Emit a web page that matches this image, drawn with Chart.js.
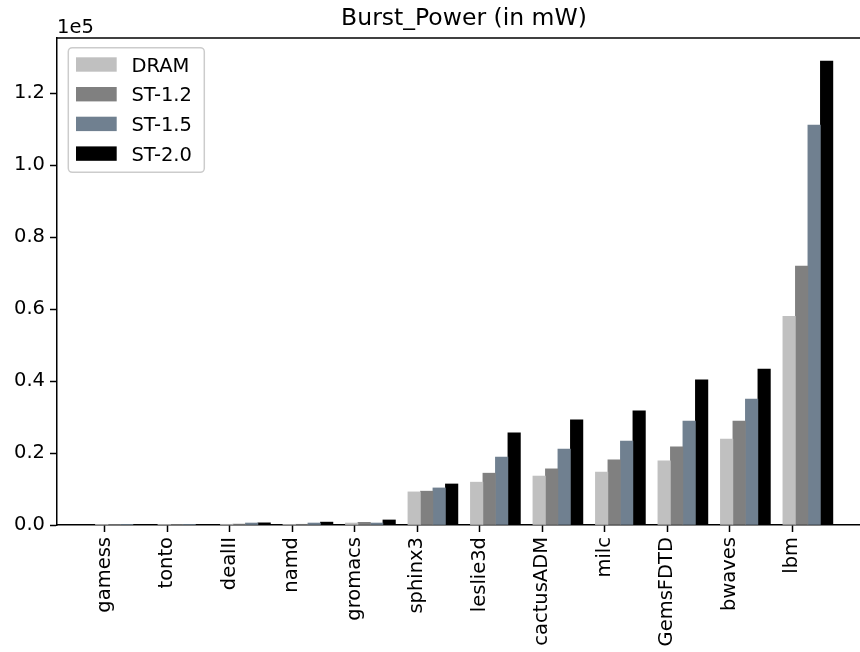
<!DOCTYPE html>
<html>
<head>
<meta charset="utf-8">
<title>Burst_Power (in mW)</title>
<script src="https://cdn.jsdelivr.net/npm/chart.js@4.4.1/dist/chart.umd.min.js"></script>
<style>
  html, body { margin: 0; padding: 0; background: #fff; overflow: hidden; }
  canvas { display: block; }
</style>
</head>
<body>
<!-- the original figure is cut off at the right edge, so the canvas is a bit wider than the window -->
<canvas id="chart-burst" width="871" height="652"></canvas>
<script>
'use strict';

const benchmarks = ['gamess', 'tonto', 'dealII', 'namd', 'gromacs', 'sphinx3', 'leslie3d', 'cactusADM', 'milc', 'GemsFDTD', 'bwaves', 'lbm'];

// burst power per benchmark, in mW (axis shown in units of 1e5)
const dramPower = [30, 30, 200, 50, 550, 9200, 11900, 13600, 14700, 17800, 23900, 58000];
const st12Power = [40, 40, 250, 200, 750, 9400, 14400, 15600, 18100, 21700, 28900, 71900];
const st15Power = [50, 50, 550, 550, 550, 10300, 18900, 21100, 23300, 28900, 35000, 111100];
const st20Power = [60, 60, 600, 800, 1400, 11400, 25600, 29200, 31700, 40300, 43300, 128900];

const seriesNames = ['DRAM', 'ST-1.2', 'ST-1.5', 'ST-2.0'];
const seriesColors = ['#c0c0c0', '#808080', '#708090', '#000000'];

const yTicks = [0, 20000, 40000, 60000, 80000, 100000, 120000];
const yMax = 135300;
const yMultiplier = 1e5;
const yMultiplierLabel = '1e5';

// x ticks sit a quarter slot left of the bar group centre, like the original
const TICK_SHIFT = -0.25;
const X_MIN = -1.015;
const X_MAX = 12.01;

const FONT = '"DejaVu Sans", sans-serif';
const TICK_SIZE = 19.5;

Chart.defaults.font.family = FONT;
Chart.defaults.color = '#000';

// top spine, the "1e5" offset text and the boxed legend in the upper left
const axesExtras = {
  id: 'axesExtras',
  afterDraw(chart) {
    const { ctx, chartArea } = chart;
    ctx.save();
    ctx.strokeStyle = '#000';
    ctx.lineWidth = 1.5;
    ctx.beginPath();
    ctx.moveTo(chartArea.left, chartArea.top);
    ctx.lineTo(chartArea.right, chartArea.top);
    ctx.stroke();

    ctx.font = `${TICK_SIZE}px ${FONT}`;
    ctx.fillStyle = '#000';
    ctx.textAlign = 'left';
    ctx.textBaseline = 'alphabetic';
    ctx.fillText(yMultiplierLabel, chartArea.left, chartArea.top - 5.3);

    const lx = chartArea.left + 11.3, ly = chartArea.top + 9.7;
    ctx.beginPath();
    ctx.roundRect(lx, ly, 136, 124.6, 4);
    ctx.fillStyle = 'rgba(255,255,255,0.8)';
    ctx.fill();
    ctx.strokeStyle = '#cccccc';
    ctx.lineWidth = 1.5;
    ctx.stroke();

    chart.data.datasets.forEach((ds, i) => {
      const base = ly + 24 + i * 29.7;
      ctx.fillStyle = ds.backgroundColor;
      ctx.fillRect(lx + 7.7, base - 14.4, 40.7, 14.4);
      ctx.fillStyle = '#000';
      ctx.fillText(ds.label, lx + 63.1, base);
    });
    ctx.restore();
  }
};

const seriesValues = [dramPower, st12Power, st15Power, st20Power];

const datasets = seriesNames.map((name, k) => ({
  label: name,
  data: seriesValues[k].map((v, i) => ({ x: i, y: v })),
  backgroundColor: seriesColors[k],
  borderWidth: 0,
  barThickness: 12.5
}));

const chartBurst = new Chart(document.getElementById('chart-burst').getContext('2d'), {
  type: 'bar',
  data: { datasets },
  plugins: [axesExtras],
  options: {
    responsive: false,
    animation: false,
    devicePixelRatio: 1,
    layout: { padding: 0 },
    plugins: {
      legend: { display: false },
      tooltip: { enabled: false },
      title: {
        display: true,
        text: 'Burst_Power (in mW)',
        fullSize: false,
        color: '#000',
        font: { family: FONT, size: 23.5, weight: 'normal', lineHeight: 1.2 },
        padding: { top: 4.4, bottom: 5.4 }
      }
    },
    scales: {
      x: {
        type: 'linear',
        min: X_MIN,
        max: X_MAX,
        offset: false,
        grid: { display: true, offset: false, drawOnChartArea: false, drawTicks: true, tickLength: 7, tickWidth: 1.5, tickColor: '#000' },
        border: { display: true, color: '#000', width: 1.5 },
        afterBuildTicks: (scale) => {
          scale.ticks = benchmarks.map((_, i) => ({ value: i + TICK_SHIFT }));
        },
        afterFit: (scale) => { scale.height = 127; },
        ticks: {
          autoSkip: false,
          minRotation: 90,
          maxRotation: 90,
          padding: 5,
          font: { size: TICK_SIZE },
          callback: (value, index) => benchmarks[index]
        }
      },
      y: {
        type: 'linear',
        min: 0,
        max: yMax,
        grid: { display: true, drawOnChartArea: false, drawTicks: true, tickLength: 7, tickWidth: 1.5, tickColor: '#000' },
        border: { display: true, color: '#000', width: 1.5 },
        afterBuildTicks: (scale) => {
          scale.ticks = yTicks.map(v => ({ value: v }));
        },
        afterFit: (scale) => { scale.width = 57; },
        ticks: {
          padding: 5,
          font: { size: TICK_SIZE },
          callback: (value) => (value / yMultiplier).toFixed(1)
        }
      }
    }
  }
});
</script>
</body>
</html>
